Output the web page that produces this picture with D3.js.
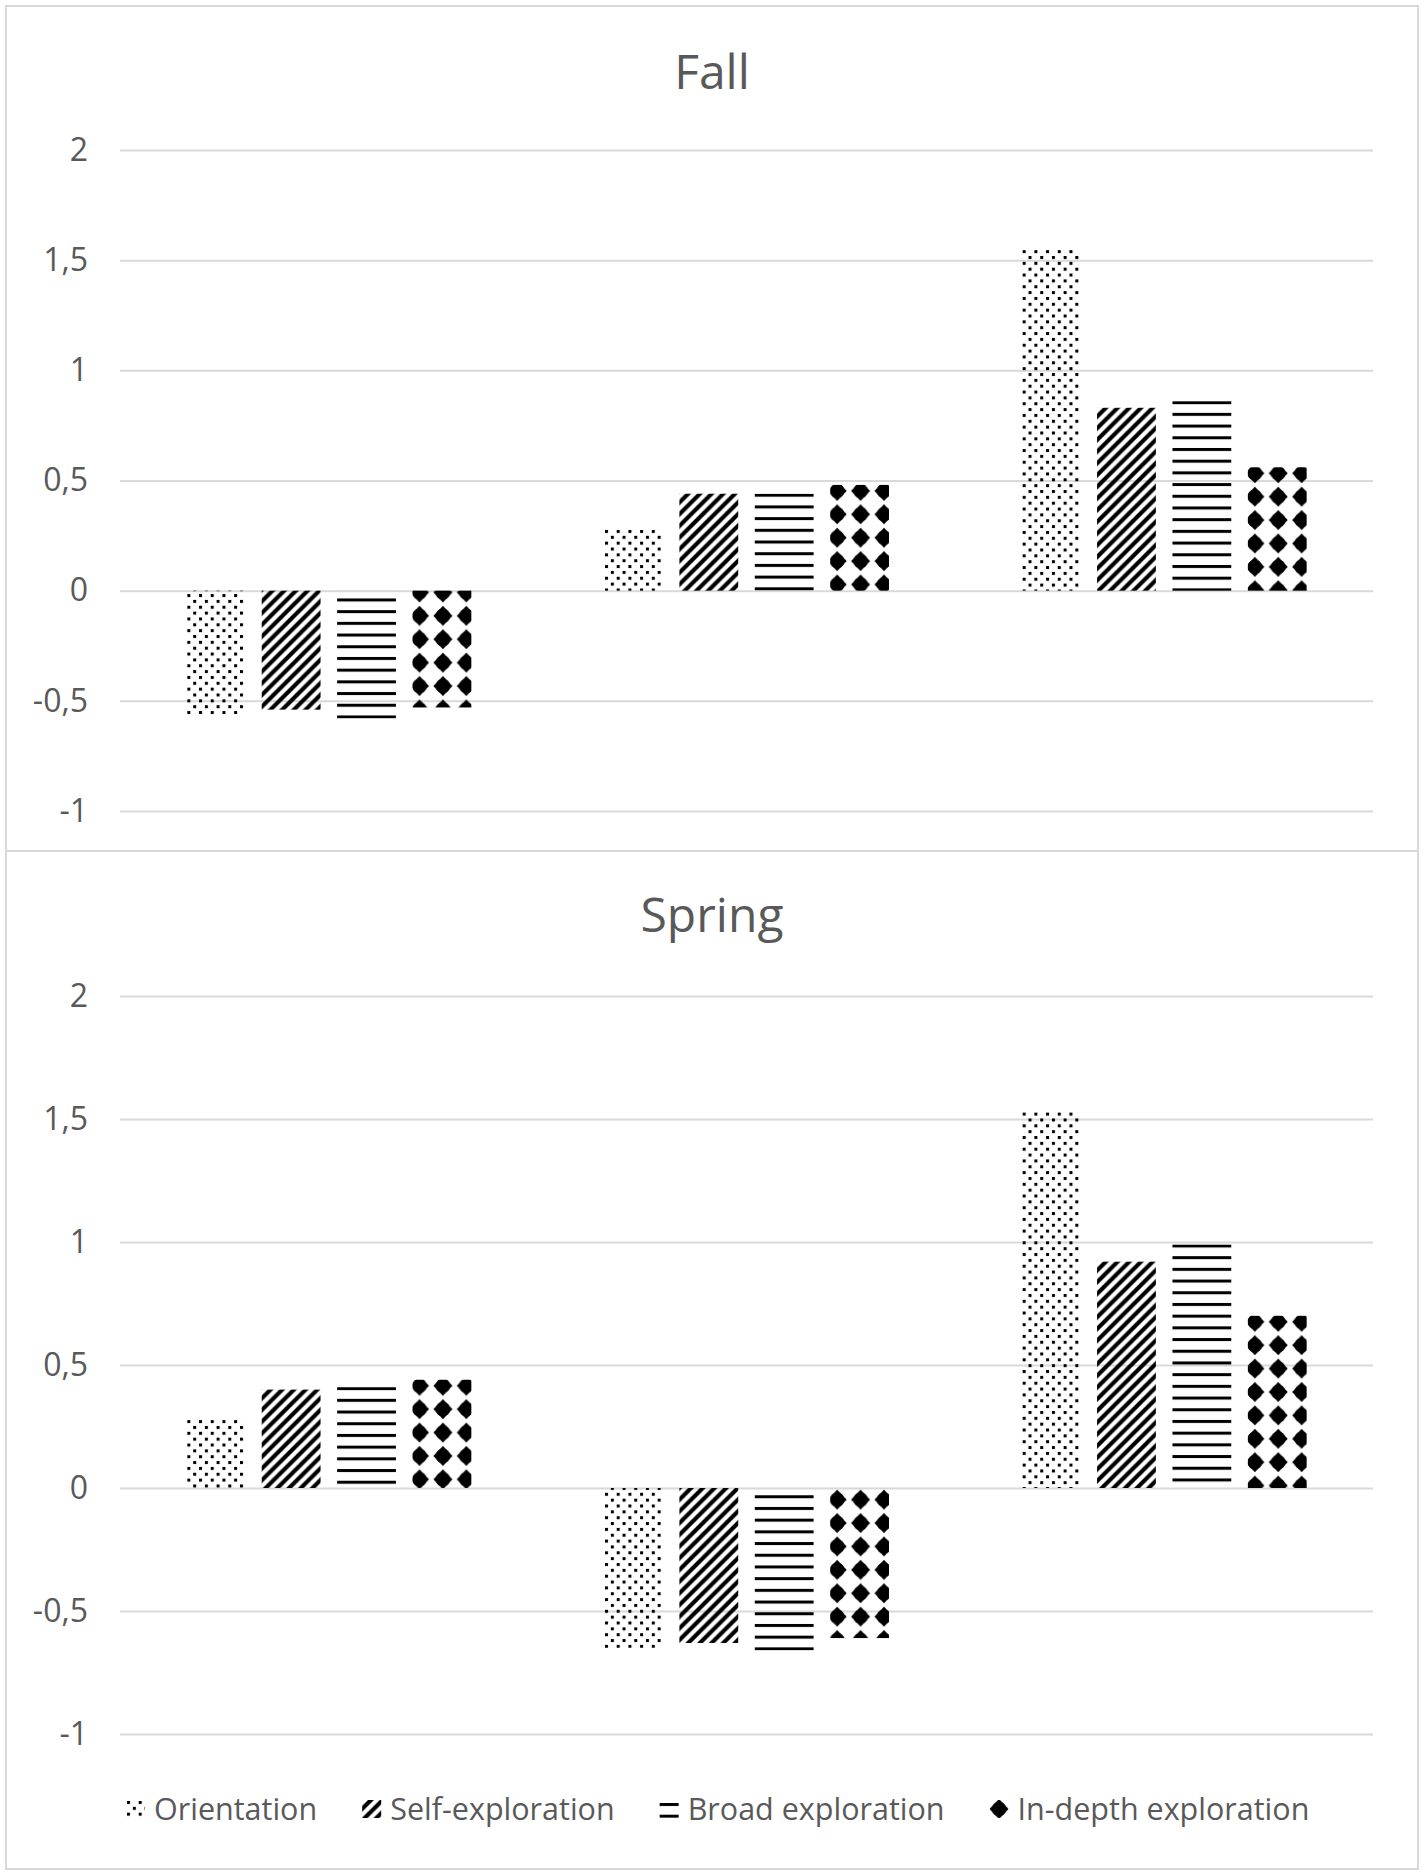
<!DOCTYPE html>
<html>
<head>
<meta charset="utf-8">
<script src="https://cdnjs.cloudflare.com/ajax/libs/d3/7.8.5/d3.min.js"></script>
<style>
body { margin: 0; background: #fff; }
text { font-family: "Open Sans", sans-serif; fill: #595959; }
</style>
</head>
<body>
<script>
var series = ["Orientation", "Self-exploration", "Broad exploration", "In-depth exploration"];
var groups = ["Group 1", "Group 2", "Group 3"];
var yTicks = [-1, -0.5, 0, 0.5, 1, 1.5, 2];
var fallValues = [
    [-0.56, -0.54, -0.58, -0.53],
    [0.28, 0.44, 0.44, 0.48],
    [1.55, 0.83, 0.86, 0.56]
];
var springValues = [
    [0.28, 0.40, 0.41, 0.44],
    [-0.65, -0.63, -0.66, -0.61],
    [1.53, 0.92, 0.99, 0.70]
];

var width = 1424, height = 1874,
    plotLeft = 120, plotRight = 1373,
    grid = "#d9d9d9",
    P = 11.7,
    tickFormat = function(d) { return String(d).replace(".", ","); };

// pattern tiles: size, offsets from bar corner (x, y at top of positive bar, y at bottom of negative bar)
var tiles = [
    {size: P, dx: 1, dyPos: 1, dyNeg: -3},
    {size: P, dx: 0, dyPos: 0, dyNeg: 0},
    {size: P, dx: 0, dyPos: 0, dyNeg: -3},
    {size: 2 * P, dx: -4.7, dyPos: -5.7, dyNeg: -9.7}
];

function drawTile(pat, k) {
    if (k === 0) {
        pat.append("rect").attr("x", 0).attr("y", 0).attr("width", 3).attr("height", 3);
        pat.append("rect").attr("x", P / 2).attr("y", P / 2).attr("width", 3).attr("height", 3);
    } else if (k === 1) {
        var h = P / 2;
        pat.append("path").attr("d", "M0," + h + "L" + h + ",0L" + P + ",0L0," + P + "Z M" + h + "," + P + "L" + P + "," + h + "L" + P + "," + P + "Z");
    } else if (k === 2) {
        pat.append("rect").attr("x", 0).attr("y", 0).attr("width", P).attr("height", 3);
    } else {
        pat.append("path").attr("d", "M" + P + "," + (P - 10) + "L" + (P + 9.5) + "," + P + "L" + P + "," + (P + 10) + "L" + (P - 9.5) + "," + P + "Z");
        pat.append("circle").attr("cx", P).attr("cy", P).attr("r", 7.3);
    }
}

var svg = d3.select("body").append("svg")
    .attr("width", width)
    .attr("height", height);

var defs = svg.append("defs");
var patCount = 0;

// px, py are in the user space of the element that uses the pattern
function makePattern(k, px, py) {
    var id = "pat" + (patCount++);
    var pat = defs.append("pattern")
        .attr("id", id)
        .attr("patternUnits", "userSpaceOnUse")
        .attr("x", px).attr("y", py)
        .attr("width", tiles[k].size).attr("height", tiles[k].size);
    drawTile(pat, k);
    return "url(#" + id + ")";
}

var x0 = d3.scaleBand()
    .domain(groups)
    .range([plotLeft, plotRight]);

var x1 = d3.scaleBand()
    .domain(series)
    .range([0, x0.bandwidth()])
    .paddingInner(0.22)
    .paddingOuter(0.88);

var panels = [
    {title: "Fall", values: fallValues, top: 6, bottom: 851, titleY: 89, yTop: 150, yBottom: 811},
    {title: "Spring", values: springValues, top: 851, bottom: 1869, titleY: 932, yTop: 996, yBottom: 1734}
];

panels.forEach(function(p) {
    var y = d3.scaleLinear()
        .domain([-1, 2])
        .range([p.yBottom, p.yTop]);

    svg.append("rect")
        .attr("x", 6).attr("y", p.top)
        .attr("width", width - 12).attr("height", p.bottom - p.top)
        .attr("fill", "none")
        .attr("stroke", grid)
        .attr("stroke-width", 2);

    svg.append("text")
        .attr("x", 712).attr("y", p.titleY)
        .attr("text-anchor", "middle")
        .style("font-size", "48px")
        .text(p.title);

    var yAxis = d3.axisLeft(y)
        .tickValues(yTicks)
        .tickFormat(tickFormat)
        .tickSize(-(plotRight - plotLeft))
        .tickPadding(32);

    var g = svg.append("g")
        .attr("class", "y axis")
        .attr("transform", "translate(" + plotLeft + ",0)")
        .call(yAxis);
    g.select(".domain").remove();
    g.selectAll(".tick line").attr("stroke", grid).attr("stroke-width", 2);
    g.selectAll(".tick text")
        .attr("fill", "#595959")
        .style("font-family", "'Open Sans', sans-serif")
        .style("font-size", "32px");

    var groupG = svg.append("g").selectAll("g")
        .data(p.values)
        .enter().append("g")
        .attr("transform", function(d, i) { return "translate(" + x0(groups[i]) + ",0)"; });

    groupG.selectAll("rect")
        .data(function(d, i) { return d.map(function(v, j) { return {group: groups[i], key: series[j], value: v, idx: j}; }); })
        .enter().append("rect")
        .attr("x", function(d) { return x1(d.key); })
        .attr("width", x1.bandwidth())
        .attr("y", function(d) { return y(Math.max(0, d.value)); })
        .attr("height", function(d) { return Math.abs(y(d.value) - y(0)); })
        .attr("fill", function(d) {
            var t = tiles[d.idx],
                bx = x1(d.key) + t.dx,
                by = y(d.value) + (d.value >= 0 ? t.dyPos : t.dyNeg);
            return makePattern(d.idx, bx, by);
        });
});

// legend
var legend = svg.append("g").attr("class", "legend");
var lx = 0, legendY = 1809;
series.forEach(function(s, i) {
    var item = legend.append("g").attr("transform", "translate(" + lx + ",0)");
    var swatchOff = [[1, 1], [0, 0], [0, 3], [9.5 - P, 9 - P]][i];
    item.append("rect")
        .attr("x", 0).attr("y", -9)
        .attr("width", 19).attr("height", 18)
        .attr("fill", makePattern(i, swatchOff[0], -9 + swatchOff[1]));
    var t = item.append("text")
        .attr("x", 28).attr("y", 0)
        .attr("dy", "0.35em")
        .style("font-size", "30.5px")
        .text(s);
    lx += 28 + t.node().getComputedTextLength() + 45;
});
lx -= 45;
legend.attr("transform", "translate(" + Math.round(718 - lx / 2) + "," + legendY + ")");
</script>
</body>
</html>
